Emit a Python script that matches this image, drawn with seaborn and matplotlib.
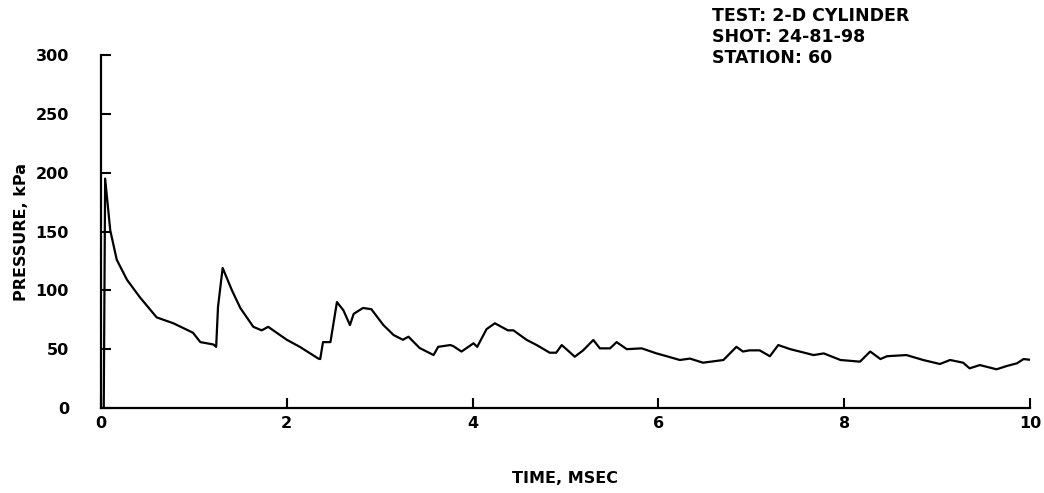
import pandas as pd
import seaborn as sns
import matplotlib.pyplot as plt

# pressure trace (time in msec, pressure in kPa)
time_ms = [0.0, 0.03, 0.045, 0.10, 0.17, 0.28, 0.42, 0.60, 0.78, 0.99, 1.07, 1.21,
           1.24, 1.26, 1.31, 1.41, 1.50, 1.64, 1.73, 1.80, 2.00, 2.14, 2.34, 2.36,
           2.39, 2.47, 2.54, 2.61, 2.68, 2.72, 2.82, 2.91, 3.04, 3.15, 3.25, 3.31,
           3.43, 3.58, 3.63, 3.76, 3.79, 3.88, 3.90, 4.01, 4.05, 4.15, 4.24, 4.38,
           4.44, 4.58, 4.69, 4.83, 4.90, 4.96, 5.10, 5.19, 5.30, 5.37, 5.48, 5.55,
           5.66, 5.82, 5.98, 6.09, 6.23, 6.34, 6.48, 6.70, 6.84, 6.91, 6.98, 7.09,
           7.20, 7.29, 7.42, 7.67, 7.78, 7.96, 8.17, 8.28, 8.39, 8.46, 8.67, 8.85,
           9.03, 9.14, 9.28, 9.35, 9.46, 9.64, 9.75, 9.86, 9.93, 10.0]
pressure_kpa = [0, 0, 195, 151, 126, 109, 94, 77, 72, 64, 56, 54,
                52, 86, 119, 100, 85, 69, 66, 69, 58, 52, 42, 41.6,
                56, 56, 90, 83, 70.5, 80, 85, 84, 70.5, 62, 58, 60.6,
                51, 45, 52, 53.5, 52.7, 48, 49, 55, 52, 67, 72, 66,
                66, 58, 53.5, 47, 47, 53.5, 43.6, 49, 57.8, 50.7, 50.7, 56,
                50, 50.7, 46.4, 44, 40.8, 42, 38.5, 40.8, 52, 48, 49, 49,
                44, 53.5, 50, 45, 46.4, 40.8, 39.4, 48, 41.6, 44, 45, 40.8,
                37.4, 40.8, 38.5, 33.7, 36.5, 32.9, 35.7, 38, 41.6, 41]

x_ticks = [0, 2, 4, 6, 8, 10]
y_ticks = [0, 50, 100, 150, 200, 250, 300]
info_lines = ["TEST: 2-D CYLINDER", "SHOT: 24-81-98", "STATION: 60"]

df = pd.DataFrame({"time": time_ms, "pressure": pressure_kpa})

sns.set_style("ticks")
plt.rcParams['font.family'] = ['DejaVu Sans']
plt.rcParams['font.weight'] = 'bold'
plt.rcParams['text.color'] = 'black'
plt.rcParams['axes.labelcolor'] = 'black'
plt.rcParams['xtick.color'] = 'black'
plt.rcParams['ytick.color'] = 'black'

fig = plt.figure(figsize=(10.44, 4.93), dpi=100)
ax = fig.add_axes([0.0967, 0.1724, 0.8899, 0.716])

sns.lineplot(data=df, x="time", y="pressure", color="black", linewidth=1.6,
             ax=ax, sort=False)

ax.set_xlim(0, 10)
ax.set_ylim(0, 300)
ax.set_xticks(x_ticks)
ax.set_yticks(y_ticks)
ax.tick_params(axis="both", direction="in", length=7, width=1.5,
               labelsize=11.5, colors="black")
ax.tick_params(axis="y", pad=23)
ax.tick_params(axis="x", pad=6)
for lab in ax.get_xticklabels() + ax.get_yticklabels():
    lab.set_fontweight("bold")

sns.despine(ax=ax)
for side in ["left", "bottom"]:
    ax.spines[side].set_linewidth(1.6)
    ax.spines[side].set_color("black")

ax.set_xlabel("TIME, MSEC", fontsize=11.5, fontweight="bold")
ax.set_ylabel("PRESSURE, kPa", fontsize=11.5, fontweight="bold")
ax.xaxis.set_label_coords(0.5, -0.178)
ax.yaxis.set_label_coords(-0.077, 0.5)

fig.text(0.682, 0.985, "\n".join(info_lines), fontsize=12.5, fontweight="bold",
         va="top", ha="left", linespacing=1.2)

fig.savefig("out.png", dpi=100, facecolor="white")
